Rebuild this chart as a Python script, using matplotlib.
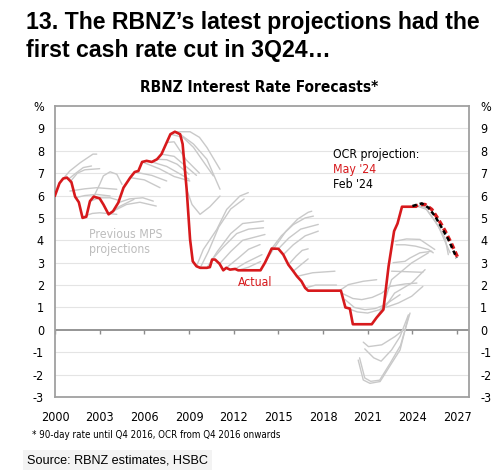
import matplotlib
matplotlib.use("Agg")
import matplotlib.pyplot as plt
from matplotlib import font_manager
from matplotlib.ticker import FixedLocator, FixedFormatter

_fl = font_manager.fontManager.ttflist
names = {f.name for f in _fl}
if "Liberation Sans Narrow" in names:
    NARROW = dict(family="Liberation Sans Narrow")
elif any(f.name == "DejaVu Sans" and "condensed" in str(f.stretch) for f in _fl):
    NARROW = dict(family="DejaVu Sans", stretch="condensed")
else:
    NARROW = dict(family="Liberation Sans")
REG = "Liberation Sans"

# ---------------- data ----------------
actual_x = [2000.0, 2000.3, 2000.55, 2000.8, 2001.1, 2001.35, 2001.6, 2001.85, 2002.1, 2002.35,
            2002.6, 2003.0, 2003.25, 2003.6, 2003.9, 2004.25, 2004.6, 2005.05, 2005.35, 2005.6,
            2005.85, 2006.15, 2006.5, 2006.85, 2007.15, 2007.5, 2007.75, 2008.05, 2008.4, 2008.57,
            2008.84, 2009.07, 2009.25, 2009.5, 2009.75, 2010.2, 2010.4, 2010.55, 2010.75, 2011.05,
            2011.3, 2011.5, 2011.75, 2012.1, 2012.3, 2013.8, 2014.1, 2014.55, 2015.0, 2015.33,
            2015.67, 2016.0, 2016.25, 2016.55, 2016.8, 2017.0, 2019.2, 2019.5, 2019.8, 2020.0,
            2021.27, 2021.6, 2022.05, 2022.4, 2022.77, 2023.0, 2023.3, 2024.2]
actual_y = [6.0, 6.55, 6.76, 6.8, 6.6, 5.95, 5.7, 5.0, 5.05, 5.75,
            5.95, 5.87, 5.6, 5.16, 5.3, 5.68, 6.35, 6.8, 7.05, 7.1,
            7.5, 7.55, 7.5, 7.62, 7.85, 8.37, 8.74, 8.85, 8.74, 8.3,
            6.28, 4.04, 3.06, 2.84, 2.77, 2.77, 2.8, 3.14, 3.14, 2.95,
            2.66, 2.77, 2.69, 2.72, 2.66, 2.66, 3.0, 3.63, 3.62, 3.36,
            2.91, 2.62, 2.39, 2.17, 1.87, 1.75, 1.75, 1.0, 0.95, 0.25,
            0.25, 0.55, 0.9, 2.84, 4.41, 4.75, 5.5, 5.5]

may24_x = [2024.2, 2024.5, 2024.85, 2025.3, 2025.75, 2026.2, 2026.65, 2027.1]
may24_y = [5.52, 5.6, 5.6, 5.38, 4.93, 4.41, 3.81, 3.14]

feb24_x = [2024.0, 2024.2, 2024.63, 2025.07, 2025.52, 2025.97, 2026.41, 2026.97]
feb24_y = [5.53, 5.57, 5.65, 5.46, 5.08, 4.56, 4.04, 3.21]

# previous MPS projections: (years, values)
mps_projections = [
    ([2000.55, 2001.0, 2001.7, 2002.55, 2002.8], [6.76, 7.1, 7.47, 7.85, 7.85]),
    ([2000.9, 2001.4, 2001.9, 2002.45], [6.73, 7.0, 7.25, 7.32]),
    ([2001.0, 2001.5, 2002.0, 2003.0], [6.6, 7.0, 7.15, 7.2]),
    ([2001.0, 2002.0, 2002.8, 2004.15], [6.2, 6.3, 6.35, 6.28]),
    ([2001.35, 2002.0, 2002.8, 2003.7], [5.9, 6.0, 6.05, 5.98]),
    ([2001.85, 2002.5, 2003.0, 2004.15], [5.05, 5.2, 5.23, 5.16]),
    ([2002.6, 2003.0, 2003.25, 2003.7, 2004.15, 2004.5], [5.95, 6.5, 6.88, 7.06, 6.95, 6.5]),
    ([2002.35, 2003.0, 2003.7, 2004.2], [5.75, 5.9, 5.9, 5.8]),
    ([2003.9, 2004.8, 2005.7, 2006.8], [5.3, 5.6, 5.7, 5.53]),
    ([2004.25, 2005.0, 2005.9, 2006.6], [5.68, 5.85, 5.9, 5.75]),
    ([2003.6, 2004.3, 2005.3], [5.16, 5.5, 5.83]),
    ([2005.05, 2006.0, 2007.05], [6.8, 6.7, 6.35]),
    ([2005.35, 2006.5, 2007.5], [7.05, 6.9, 6.65]),
    ([2005.85, 2007.0, 2008.0, 2009.05], [7.5, 7.2, 6.85, 6.65]),
    ([2006.5, 2007.5, 2008.3, 2009.0], [7.5, 7.3, 7.0, 6.73]),
    ([2006.85, 2007.5, 2008.2, 2009.0], [7.62, 7.6, 7.4, 6.95]),
    ([2007.15, 2008.0, 2008.8, 2009.5], [7.85, 7.75, 7.3, 6.9]),
    ([2007.5, 2008.0, 2008.8, 2009.7], [8.37, 8.4, 7.6, 7.0]),
    ([2007.75, 2008.6, 2009.3, 2010.63], [8.74, 8.6, 8.15, 6.88]),
    ([2008.05, 2009.07, 2009.7, 2010.2, 2011.08], [8.85, 8.85, 8.6, 8.15, 7.17]),
    ([2008.4, 2009.3, 2010.2, 2011.08], [8.74, 8.3, 7.62, 6.28]),
    ([2008.84, 2009.2, 2009.74, 2010.4, 2011.08], [6.28, 5.6, 5.16, 5.5, 5.98]),
    ([2009.5, 2009.96, 2010.86, 2011.53, 2012.42, 2012.98], [2.84, 3.59, 4.48, 5.38, 5.98, 6.13]),
    ([2009.75, 2010.3, 2011.0, 2011.8, 2012.7], [2.77, 3.5, 4.6, 5.4, 5.85]),
    ([2010.2, 2010.9, 2011.8, 2012.6, 2014.0], [2.77, 3.5, 4.3, 4.75, 4.86]),
    ([2010.55, 2011.3, 2012.2, 2013.0, 2014.0], [3.14, 3.7, 4.3, 4.5, 4.56]),
    ([2011.05, 2011.8, 2012.6, 2014.1], [2.95, 3.5, 4.0, 4.26]),
    ([2011.5, 2012.3, 2013.0, 2013.77], [2.77, 3.2, 3.6, 3.81]),
    ([2012.1, 2012.8, 2013.9], [2.72, 3.0, 3.36]),
    ([2012.3, 2013.0, 2013.8], [2.66, 2.8, 3.05]),
    ([2014.1, 2014.66, 2015.5, 2016.3, 2017.0, 2017.24], [3.0, 3.6, 4.4, 4.95, 5.25, 5.3]),
    ([2014.55, 2015.2, 2016.0, 2016.8, 2017.35], [3.63, 4.2, 4.7, 5.0, 5.08]),
    ([2015.0, 2015.7, 2016.5, 2017.68], [3.62, 4.1, 4.5, 4.71]),
    ([2015.33, 2016.0, 2016.8, 2017.68], [3.36, 3.8, 4.2, 4.41]),
    ([2015.67, 2016.2, 2016.6, 2017.0], [2.91, 3.3, 3.55, 3.62]),
    ([2016.0, 2016.5, 2017.0], [2.62, 2.9, 3.17]),
    ([2016.25, 2017.3, 2018.8], [2.39, 2.55, 2.62]),
    ([2016.8, 2017.5, 2018.9], [1.87, 2.0, 2.0]),
    ([2019.1, 2019.7, 2020.7, 2021.6], [1.75, 2.02, 2.17, 2.24]),
    ([2019.25, 2020.0, 2020.6, 2021.3, 2021.94, 2022.5], [1.64, 1.4, 1.35, 1.45, 1.64, 1.94]),
    ([2019.48, 2020.1, 2020.81, 2021.5, 2022.16, 2023.17], [1.35, 1.0, 0.9, 0.95, 1.12, 1.57]),
    ([2019.6, 2020.3, 2021.0, 2021.8, 2022.5], [0.97, 0.8, 0.75, 0.9, 1.3]),
    ([2021.6, 2022.0, 2022.6, 2023.95, 2025.07], [0.55, 1.0, 2.24, 2.99, 3.44]),
    ([2022.05, 2022.8, 2023.95, 2024.85], [0.9, 1.64, 2.09, 2.69]),
    ([2022.2, 2023.06, 2023.95, 2024.7], [1.0, 1.2, 1.5, 1.94]),
    ([2022.5, 2023.5, 2024.3], [1.94, 2.05, 2.09]),
    ([2022.6, 2023.5, 2024.7], [2.62, 2.6, 2.57]),
    ([2022.83, 2023.6, 2024.5, 2025.5], [3.96, 4.06, 4.04, 3.59]),
    ([2022.9, 2023.5, 2024.2, 2025.07, 2025.4], [3.8, 3.8, 3.74, 3.59, 3.44]),
    ([2022.7, 2023.5, 2023.84, 2024.5, 2025.3], [3.0, 3.06, 3.21, 3.44, 3.51]),
    ([2023.95, 2024.5, 2024.85, 2025.52, 2026.19, 2026.41], [5.5, 5.55, 5.46, 4.86, 4.11, 3.36]),
    ([2024.2, 2024.96, 2025.74, 2026.53], [5.55, 5.38, 4.63, 3.44]),
    ([2020.36, 2020.7, 2021.15, 2021.83, 2022.5, 2023.17, 2023.73], [-1.35, -2.24, -2.39, -2.31, -1.6, -0.9, 0.6]),
    ([2020.45, 2020.8, 2021.2, 2021.8, 2022.5, 2023.2, 2023.84], [-1.25, -2.15, -2.3, -2.25, -1.5, -0.7, 0.75]),
    ([2020.8, 2021.4, 2021.9, 2022.6, 2023.17, 2023.73], [-0.85, -1.25, -1.4, -0.9, -0.3, 0.67]),
    ([2020.7, 2021.05, 2021.94, 2022.83, 2023.4], [-0.55, -0.75, -0.67, -0.3, 0.0]),
]

year_ticks = [2000, 2003, 2006, 2009, 2012, 2015, 2018, 2021, 2024, 2027]
y_ticks = list(range(-3, 11))
y_labels = [str(v) for v in range(-3, 10)] + ["%"]

# ---------------- figure ----------------
RED = "#d7191c"
GREY = "#c9c9c9"

fig = plt.figure(figsize=(5.0, 4.73), dpi=100)
ax = fig.add_axes([0.11, 0.1607, 0.828, 0.6152])
ax.set_xlim(2000, 2027.8)
ax.set_ylim(-3, 10)

for v in range(-2, 10):
    if v == 0:
        continue
    ax.axhline(v, color="#e4e4e4", lw=0.8, zorder=0)
ax.axhline(0, color="#8c8c8c", lw=1.3, zorder=1)
ax.vlines(year_ticks, -0.17, 0.0, color="#8c8c8c", lw=1.0, zorder=1)

for xs, ys in mps_projections:
    ax.plot(xs, ys, color=GREY, lw=1.0, zorder=2, solid_capstyle="round")

ax.plot(actual_x, actual_y, color=RED, lw=1.9, zorder=4, solid_joinstyle="round")
ax.plot(may24_x, may24_y, color=RED, lw=2.5, ls=(0.8, (1.6, 0.9)), zorder=5)
ax.plot(feb24_x, feb24_y, color="black", lw=1.8, ls=(0, (1.8, 1.2)), zorder=6)

for s in ax.spines.values():
    s.set_color("#a0a0a0")
    s.set_linewidth(1.3)

TICK_FS = 9.0
ax.xaxis.set_major_locator(FixedLocator(year_ticks))
ax.yaxis.set_major_locator(FixedLocator(y_ticks))
ax.yaxis.set_major_formatter(FixedFormatter(y_labels))
ax.tick_params(axis="x", length=0, pad=10, labelsize=TICK_FS)
ax.tick_params(axis="y", length=0, pad=8, labelsize=TICK_FS, labelright=True)
for lab in ax.get_xticklabels() + ax.get_yticklabels():
    lab.set_fontproperties(font_manager.FontProperties(size=TICK_FS, **NARROW))

# annotations
tk = dict(fontsize=8.8, va="center", ha="left", **NARROW)
ax.text(2002.25, 4.26, "Previous MPS", color="#bdbdbd", **tk)
ax.text(2002.25, 3.59, "projections", color="#bdbdbd", **tk)
ax.text(2012.3, 2.1, "Actual", color=RED, **tk)
ax.text(2018.68, 7.85, "OCR projection:", color="black", **tk)
ax.text(2018.68, 7.18, "May '24", color=RED, **tk)
ax.text(2018.68, 6.5, "Feb '24", color="black", **tk)

# titles
t1 = fig.text(26 / 500, 1 - 23 / 473, "13. The RBNZ\u2019s latest projections had the", fontsize=15.6,
              fontweight="bold", family=REG, va="center", ha="left")
t2 = fig.text(26 / 500, 1 - 50 / 473, "first cash rate cut in 3Q24\u2026", fontsize=15.6,
              fontweight="bold", family=REG, va="center", ha="left")
t3 = fig.text(259 / 500, 1 - 87 / 473, "RBNZ Interest Rate Forecasts*", fontsize=11.1, fontweight="bold",
              va="center", ha="center", **NARROW)
t4 = fig.text(32 / 500, 1 - 435 / 473, "* 90-day rate until Q4 2016, OCR from Q4 2016 onwards", fontsize=7.0,
              va="center", ha="left", **NARROW)
t5 = fig.text(27 / 500, 1 - 460 / 473, "Source: RBNZ estimates, HSBC", fontsize=9.3, family=REG,
              va="center", ha="left",
              bbox=dict(boxstyle="square,pad=0.3", facecolor="#f3f3f3", edgecolor="none"))

# fit text widths (pixels) to the reference layout
renderer = fig.canvas.get_renderer()
for t, target in [(t1, 456), (t3, 238), (t4, 248), (t5, 181)]:
    w = t.get_window_extent(renderer).width
    if t is t5:
        t.set_bbox(None)
        w = t.get_window_extent(renderer).width
    new_fs = t.get_fontsize() * target / w
    t.set_fontsize(new_fs)
    if t is t1:
        t2.set_fontsize(new_fs)
t5.set_bbox(dict(boxstyle="square,pad=0.3", facecolor="#f3f3f3", edgecolor="none"))

fig.savefig("out.png", dpi=100)
